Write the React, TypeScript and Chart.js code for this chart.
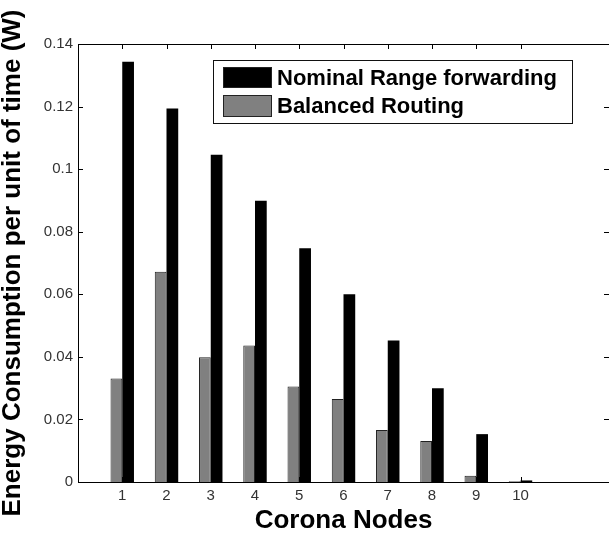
import React, { useEffect, useRef } from 'react';
import { Chart, registerables } from 'chart.js';
Chart.register(...registerables);

const nodes = [1, 2, 3, 4, 5, 6, 7, 8, 9, 10];
const xTickLabels = ['1', '2', '3', '4', '5', '6', '7', '8', '9', '10'];
const nominal = [0.1343, 0.1194, 0.1046, 0.0899, 0.0747, 0.06, 0.0452, 0.03, 0.0153, 0.0005];
const balanced = [0.0331, 0.0672, 0.0399, 0.0436, 0.0305, 0.0265, 0.0166, 0.0131, 0.002, 0.0002];
const yTicks = [0, 0.02, 0.04, 0.06, 0.08, 0.1, 0.12, 0.14];
const yTickLabels = ['0', '0.02', '0.04', '0.06', '0.08', '0.1', '0.12', '0.14'];
const seriesNames = ['Nominal Range forwarding', 'Balanced Routing'];
const seriesColors = ['#000000', '#808080'];
const xTitle = 'Corona Nodes';
const yTitle = 'Energy Consumption per unit of time (W)';

const FONT = '"Liberation Sans", Arial, Helvetica, sans-serif';

const boxPlugin = {
  id: 'matlabBox',
  beforeDatasetsDraw(chart: any) {
    const { ctx, chartArea: a, scales } = chart;
    const tl = 5;
    ctx.save();
    ctx.strokeStyle = '#000';
    ctx.lineWidth = 1;
    ctx.beginPath();
    nodes.forEach((v) => {
      const px = Math.round(scales.x.getPixelForValue(v)) + 0.5;
      ctx.moveTo(px, a.bottom);
      ctx.lineTo(px, a.bottom - tl);
      ctx.moveTo(px, a.top);
      ctx.lineTo(px, a.top + tl);
    });
    yTicks.forEach((v) => {
      const py = Math.round(scales.y.getPixelForValue(v)) + 0.5;
      ctx.moveTo(a.left, py);
      ctx.lineTo(a.left + tl, py);
      ctx.moveTo(a.right, py);
      ctx.lineTo(a.right - tl, py);
    });
    ctx.stroke();
    ctx.restore();
  },
  afterDatasetsDraw(chart: any) {
    const { ctx, chartArea: a } = chart;
    ctx.save();
    ctx.strokeStyle = '#000';
    ctx.lineWidth = 1;
    ctx.beginPath();
    const L = Math.round(a.left) + 0.5;
    const T = Math.round(a.top) + 0.5;
    const B = Math.round(a.bottom) + 0.5;
    const R = Math.round(a.right) + 0.5;
    ctx.moveTo(L, T);
    ctx.lineTo(R, T);
    ctx.lineTo(R, B);
    ctx.lineTo(L, B);
    ctx.closePath();
    ctx.stroke();

    // legend
    const lx = 213.5, ly = 60.5, lw = 359, lh = 63;
    ctx.fillStyle = '#fff';
    ctx.fillRect(lx, ly, lw, lh);
    ctx.strokeStyle = '#111';
    ctx.strokeRect(lx, ly, lw, lh);
    const rows = [
      { y: 67, h: 21, ty: 79 },
      { y: 95, h: 22, ty: 106.5 },
    ];
    rows.forEach((r, i) => {
      ctx.fillStyle = seriesColors[i];
      ctx.fillRect(223, r.y, 49, r.h);
      ctx.strokeStyle = '#222';
      ctx.strokeRect(223.5, r.y + 0.5, 48, r.h - 1);
      ctx.fillStyle = '#000';
      ctx.font = `bold 22px ${FONT}`;
      ctx.textBaseline = 'middle';
      ctx.textAlign = 'left';
      ctx.fillText(seriesNames[i], 277, r.ty);
    });
    ctx.restore();
  },
};

export default function App() {
  const ref = useRef<HTMLCanvasElement | null>(null);
  useEffect(() => {
    if (!ref.current) return;
    Chart.defaults.font.family = FONT;
    const chart = new Chart(ref.current, {
      type: 'bar',
      data: {
        datasets: [
          {
            label: seriesNames[1],
            data: nodes.map((n, i) => ({ x: n, y: balanced[i] })),
            backgroundColor: seriesColors[1],
            borderColor: '#222',
            borderWidth: 1,
            categoryPercentage: 0.53,
            barPercentage: 1,
          },
          {
            label: seriesNames[0],
            data: nodes.map((n, i) => ({ x: n, y: nominal[i] })),
            backgroundColor: seriesColors[0],
            borderWidth: 0,
            categoryPercentage: 0.53,
            barPercentage: 1,
          },
        ],
      },
      options: {
        animation: false,
        responsive: false,
        maintainAspectRatio: false,
        layout: { padding: { top: 44, right: 0, left: 0, bottom: 0 } },
        plugins: { legend: { display: false }, tooltip: { enabled: false } },
        scales: {
          x: {
            type: 'linear',
            min: 0,
            max: 12,
            offset: false,
            grid: { display: false, drawTicks: false, offset: false },
            border: { display: false },
            afterBuildTicks: (s: any) => {
              s.ticks = nodes.map((v) => ({ value: v }));
            },
            afterFit: (s: any) => {
              s.height = 56;
            },
            ticks: {
              padding: 5,
              color: '#333',
              font: { size: 15, family: FONT },
              maxRotation: 0,
              autoSkip: false,
              callback: (v: any) => {
                const i = nodes.indexOf(Number(v));
                return i >= 0 ? xTickLabels[i] : '';
              },
            },
            title: {
              display: true,
              text: xTitle,
              color: '#000',
              font: { size: 26, weight: 'bold', family: FONT, lineHeight: 1 },
              padding: { top: 0, bottom: 4 },
            },
          },
          y: {
            min: 0,
            max: 0.14,
            grid: { display: false, drawTicks: false },
            border: { display: false },
            afterBuildTicks: (s: any) => {
              s.ticks = yTicks.map((v) => ({ value: v }));
            },
            afterFit: (s: any) => {
              s.width = 78;
            },
            ticks: {
              padding: 5,
              color: '#333',
              font: { size: 15, family: FONT },
              callback: (v: any) => {
                const i = yTicks.findIndex((t) => Math.abs(t - Number(v)) < 1e-9);
                return i >= 0 ? yTickLabels[i] : '';
              },
            },
            title: {
              display: true,
              text: yTitle,
              color: '#000',
              font: { size: 26, weight: 'bold', family: FONT, lineHeight: 1 },
              padding: { top: 0, bottom: 0 },
            },
          },
        },
      },
      plugins: [boxPlugin],
    } as any);
    return () => chart.destroy();
  }, []);
  return (
    <div style={{ position: 'absolute', left: 0, top: 0, width: 609, height: 538, background: '#fff' }}>
      <canvas ref={ref} width={609} height={538} style={{ display: 'block' }} />
    </div>
  );
}
